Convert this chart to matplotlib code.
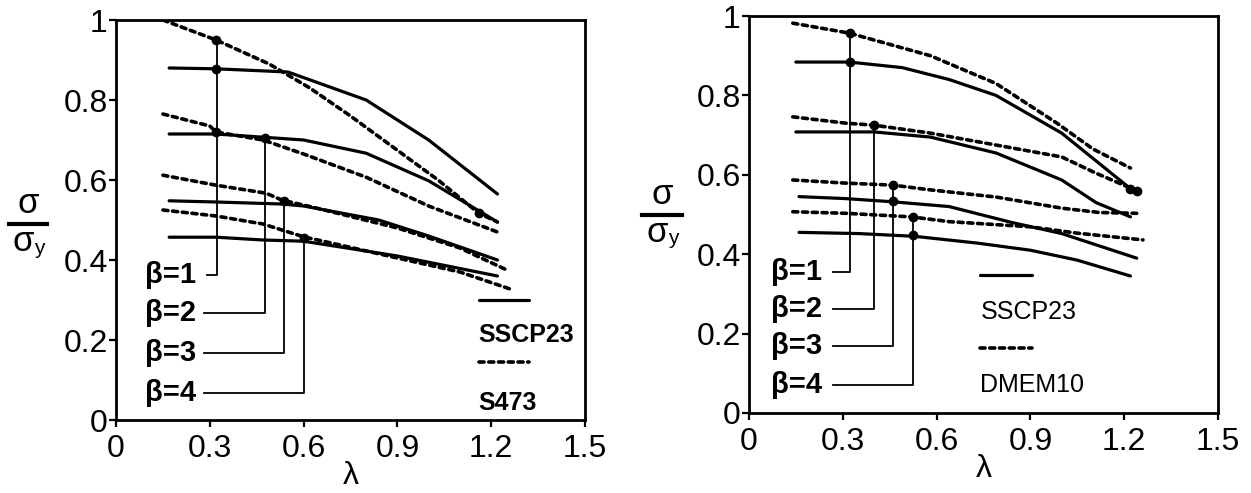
import matplotlib
matplotlib.use("Agg")
import matplotlib.pyplot as plt
from matplotlib.lines import Line2D

plt.rcParams['font.family'] = ['Liberation Sans', 'DejaVu Sans']

# ---------------- data ----------------
lam_ticks = [0, 0.3, 0.6, 0.9, 1.2, 1.5]
lam_labels = ['0', '0.3', '0.6', '0.9', '1.2', '1.5']
ratio_ticks = [0, 0.2, 0.4, 0.6, 0.8, 1.0]
ratio_labels = ['0', '0.2', '0.4', '0.6', '0.8', '1']
beta_labels = ['β=1', 'β=2', 'β=3', 'β=4']

# Left panel: SSCP23 (solid)
L_s1_x = [0.17, 0.32, 0.55, 0.80, 1.00, 1.22]
L_s1_y = [0.880, 0.878, 0.870, 0.800, 0.700, 0.565]
L_s2_x = [0.17, 0.32, 0.47, 0.60, 0.80, 1.00, 1.22]
L_s2_y = [0.715, 0.715, 0.707, 0.700, 0.667, 0.598, 0.495]
L_s3_x = [0.17, 0.32, 0.53, 0.60, 0.84, 1.00, 1.22]
L_s3_y = [0.548, 0.545, 0.540, 0.535, 0.500, 0.460, 0.400]
L_s4_x = [0.17, 0.32, 0.47, 0.60, 0.90, 1.22]
L_s4_y = [0.457, 0.457, 0.450, 0.447, 0.410, 0.360]
# Left panel: S473 (dashed)
L_d1_x = [0.15, 0.32, 0.49, 0.62, 0.75, 0.89, 1.03, 1.16, 1.22]
L_d1_y = [1.000, 0.950, 0.890, 0.830, 0.760, 0.680, 0.600, 0.517, 0.495]
L_d2_x = [0.15, 0.30, 0.32, 0.47, 0.60, 0.80, 1.00, 1.23]
L_d2_y = [0.765, 0.735, 0.720, 0.700, 0.665, 0.607, 0.535, 0.467]
L_d3_x = [0.15, 0.32, 0.48, 0.53, 0.64, 0.90, 1.10, 1.25]
L_d3_y = [0.612, 0.587, 0.567, 0.550, 0.530, 0.480, 0.430, 0.375]
L_d4_x = [0.15, 0.32, 0.47, 0.60, 0.90, 1.10, 1.27]
L_d4_y = [0.525, 0.510, 0.490, 0.458, 0.405, 0.370, 0.325]
# Left panel markers / leaders
L_dot_x = [0.32, 0.32, 0.32, 0.477, 0.537, 0.601, 1.16]
L_dot_y = [0.950, 0.878, 0.720, 0.705, 0.548, 0.456, 0.517]
L_lead_x = [0.323, 0.477, 0.537, 0.601]
L_lead_top = [0.950, 0.705, 0.548, 0.456]
L_lead_y = [0.362, 0.267, 0.167, 0.067]
L_lead_end = [0.29, 0.283, 0.283, 0.283]

# Right panel: SSCP23 (solid)
R_s1_x = [0.15, 0.32, 0.49, 0.64, 0.79, 1.00, 1.22]
R_s1_y = [0.884, 0.884, 0.870, 0.840, 0.800, 0.705, 0.565]
R_s2_x = [0.15, 0.40, 0.58, 0.79, 1.00, 1.11, 1.22]
R_s2_y = [0.708, 0.708, 0.695, 0.655, 0.587, 0.530, 0.494]
R_s3_x = [0.16, 0.31, 0.46, 0.64, 0.84, 1.00, 1.24]
R_s3_y = [0.545, 0.540, 0.532, 0.520, 0.480, 0.452, 0.390]
R_s4_x = [0.16, 0.35, 0.53, 0.73, 0.90, 1.05, 1.22]
R_s4_y = [0.455, 0.452, 0.445, 0.428, 0.410, 0.385, 0.345]
# Right panel: DMEM10 (dashed)
R_d1_x = [0.14, 0.32, 0.58, 0.79, 0.985, 1.10, 1.22]
R_d1_y = [0.982, 0.957, 0.900, 0.830, 0.730, 0.665, 0.617]
R_d2_x = [0.14, 0.31, 0.40, 0.58, 0.79, 1.00, 1.11, 1.24]
R_d2_y = [0.746, 0.730, 0.725, 0.705, 0.675, 0.645, 0.604, 0.560]
R_d3_x = [0.14, 0.31, 0.46, 0.58, 0.79, 1.00, 1.12, 1.24]
R_d3_y = [0.587, 0.579, 0.574, 0.562, 0.544, 0.516, 0.505, 0.503]
R_d4_x = [0.14, 0.31, 0.52, 0.64, 0.90, 1.05, 1.26]
R_d4_y = [0.507, 0.503, 0.494, 0.482, 0.469, 0.453, 0.436]
# Right panel markers / leaders
R_dot_x = [0.323, 0.323, 0.40, 0.46, 0.46, 0.525, 0.525, 1.22, 1.24]
R_dot_y = [0.957, 0.884, 0.725, 0.574, 0.535, 0.494, 0.448, 0.565, 0.560]
R_lead_x = [0.323, 0.40, 0.46, 0.525]
R_lead_top = [0.957, 0.725, 0.574, 0.494]
R_lead_y = [0.355, 0.262, 0.169, 0.070]
R_lead_end = [0.27, 0.27, 0.27, 0.27]

# ---------------- figure ----------------
W, H = 1251, 493
fig = plt.figure(figsize=(W / 100, H / 100), dpi=100)
ax1 = fig.add_axes([116 / W, (H - 420) / H, 469 / W, 400 / H])
ax2 = fig.add_axes([749 / W, (H - 413) / H, 469 / W, 397 / H])

SOLID = dict(color='black', lw=2.3, solid_capstyle='round')
DASH = dict(color='black', lw=2.6, linestyle=(0, (1.4, 1.3)), dash_capstyle='round')
THIN = dict(color='black', lw=1.3)


def style_axes(ax):
    ax.set_xlim(0, 1.5)
    ax.set_ylim(0, 1)
    ax.set_xticks(lam_ticks)
    ax.set_xticklabels(lam_labels)
    ax.set_yticks(ratio_ticks)
    ax.set_yticklabels(ratio_labels)
    ax.tick_params(direction='out', length=5, width=1.6, labelsize=23)
    ax.tick_params(axis='x', pad=5)
    ax.tick_params(axis='y', pad=1)
    for s in ax.spines.values():
        s.set_linewidth(2.0)
    ax.set_xlabel('λ', fontsize=23, labelpad=-2)


def draw_panel(ax, solids, dashes, dots, lead_x, lead_top, lead_y, lead_end,
               label_x, bold_legend, leg):
    for (x, y) in solids:
        ax.plot(x, y, **SOLID)
    for (x, y) in dashes:
        ax.plot(x, y, **DASH)
    for lx, lt, ly, le in zip(lead_x, lead_top, lead_y, lead_end):
        ax.plot([lx, lx, le], [lt, ly, ly], **THIN)
    for lab, ly in zip(beta_labels, lead_y):
        ax.text(label_x, ly, lab, fontsize=21, fontweight='bold',
                ha='right', va='center')
    ax.plot(dots[0], dots[1], 'o', color='black', ms=6)
    x0, x1, ys, yt1, yd, yt2, t1, t2 = leg
    w = 'bold' if bold_legend else 'normal'
    ax.plot([x0, x1], [ys, ys], **SOLID)
    ax.text(x0, yt1, t1, fontsize=18, fontweight=w, ha='left', va='center')
    ax.plot([x0, x1], [yd, yd], **DASH)
    ax.text(x0, yt2, t2, fontsize=18, fontweight=w, ha='left', va='center')


style_axes(ax1)
style_axes(ax2)

draw_panel(ax1,
           [(L_s1_x, L_s1_y), (L_s2_x, L_s2_y), (L_s3_x, L_s3_y), (L_s4_x, L_s4_y)],
           [(L_d1_x, L_d1_y), (L_d2_x, L_d2_y), (L_d3_x, L_d3_y), (L_d4_x, L_d4_y)],
           (L_dot_x, L_dot_y), L_lead_x, L_lead_top, L_lead_y, L_lead_end,
           0.255, True,
           (1.16, 1.32, 0.300, 0.212, 0.145, 0.043, 'SSCP23', 'S473'))

draw_panel(ax2,
           [(R_s1_x, R_s1_y), (R_s2_x, R_s2_y), (R_s3_x, R_s3_y), (R_s4_x, R_s4_y)],
           [(R_d1_x, R_d1_y), (R_d2_x, R_d2_y), (R_d3_x, R_d3_y), (R_d4_x, R_d4_y)],
           (R_dot_x, R_dot_y), R_lead_x, R_lead_top, R_lead_y, R_lead_end,
           0.235, False,
           (0.74, 0.905, 0.348, 0.255, 0.164, 0.070, 'SSCP23', 'DMEM10'))


# y-axis label: sigma / sigma_y drawn as a fraction
def frac_label(xc, ybar, x0, x1):
    fig.add_artist(Line2D([x0 / W, x1 / W], [1 - ybar / H, 1 - ybar / H],
                          color='black', lw=3, transform=fig.transFigure))
    fig.text(xc / W, 1 - (ybar - 20) / H, 'σ', fontsize=25, ha='center', va='center')
    fig.text((xc - 5) / W, 1 - (ybar + 17) / H, 'σ', fontsize=25, ha='center', va='center')
    fig.text((xc + 11) / W, 1 - (ybar + 24) / H, 'y', fontsize=15, ha='center', va='center')


frac_label(28, 224, 9, 47)
frac_label(662, 215, 642, 682)

fig.savefig('out.png', dpi=100)
